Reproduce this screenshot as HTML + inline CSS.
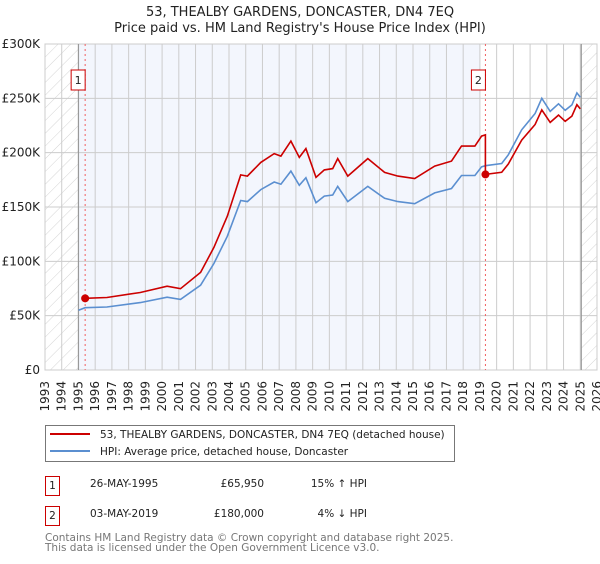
<!DOCTYPE html>
<html><head><meta charset="utf-8"><style>
body{margin:0;background:#fff;font-family:"DejaVu Sans","Liberation Sans",sans-serif;}
svg text{font-family:"DejaVu Sans","Liberation Sans",sans-serif;}
</style></head><body>
<svg id="c" width="600" height="560" xmlns="http://www.w3.org/2000/svg">
<defs><pattern id="h" width="9" height="9" patternUnits="userSpaceOnUse" patternTransform="rotate(45)"><line x1="0" y1="0" x2="0" y2="9" stroke="#d4d4d4" stroke-width="1"/></pattern></defs>
<text x="300" y="16" text-anchor="middle" font-size="13" fill="#222">53, THEALBY GARDENS, DONCASTER, DN4 7EQ</text>
<text x="300" y="32" text-anchor="middle" font-size="13" fill="#222">Price paid vs. HM Land Registry's House Price Index (HPI)</text>
<g id="plot"></g>
<g>
<rect x="45.5" y="425.5" width="409" height="36" fill="#fff" stroke="#777"/>
<line x1="50" y1="434" x2="90" y2="434" stroke="#cc0000" stroke-width="2"/>
<text x="100" y="438" font-size="10.5" fill="#222">53, THEALBY GARDENS, DONCASTER, DN4 7EQ (detached house)</text>
<line x1="50" y1="451" x2="90" y2="451" stroke="#5b8fd0" stroke-width="2"/>
<text x="100" y="455" font-size="10.5" fill="#222">HPI: Average price, detached house, Doncaster</text>
</g>
<g font-size="10.5" fill="#222">
<rect x="45.5" y="476.5" width="14" height="19" fill="#fff" stroke="#cc0000"/>
<text x="52.5" y="489" text-anchor="middle">1</text>
<text x="90" y="487">26-MAY-1995</text>
<text x="264" y="487" text-anchor="end">£65,950</text>
<text x="367" y="487" text-anchor="end">15% ↑ HPI</text>
<rect x="45.5" y="506.5" width="14" height="19" fill="#fff" stroke="#cc0000"/>
<text x="52.5" y="519" text-anchor="middle">2</text>
<text x="90" y="517">03-MAY-2019</text>
<text x="264" y="517" text-anchor="end">£180,000</text>
<text x="367" y="517" text-anchor="end">4% ↓ HPI</text>
</g>
<text x="45" y="541" font-size="10.5" fill="#777">Contains HM Land Registry data © Crown copyright and database right 2025.</text>
<text x="45" y="551" font-size="10.5" fill="#777">This data is licensed under the Open Government Licence v3.0.</text>
</svg>
<script>
const hpiYears=[1995.0,1995.4,1996.7,1998.7,2000.3,2001.1,2002.3,2003.1,2003.9,2004.7,2005.1,2005.9,2006.7,2007.1,2007.7,2008.2,2008.6,2009.2,2009.7,2010.2,2010.5,2011.1,2012.3,2013.3,2014.1,2015.1,2016.3,2017.3,2017.9,2018.7,2019.1,2019.33,2020.3,2020.7,2021.5,2022.3,2022.7,2023.2,2023.7,2024.1,2024.5,2024.8,2025.0];
const hpiValues=[55,57.3,58,62,67,65,78,98,123,156,155,166,173,171,183,170,177,154,160,161,169,155,169,158,155,153,163,167,179,179,187,188,190,198,221,236,250,238,245,239,244,255,251];
const saleYears=[1995.4,2019.33];
const salePrices=[65.95,180];
const yTicks=[0,50,100,150,200,250,300];
const yTickLabels=["£0","£50K","£100K","£150K","£200K","£250K","£300K"];
const xTickYears=[];for(let y=1993;y<=2026;y++)xTickYears.push(y);

const NS="http://www.w3.org/2000/svg";
const L=45,R=597,T=44,B=370;
const X=y=>L+(y-1993)*(R-L)/33;
const Y=v=>B-(v/300)*(B-T);
const g=document.getElementById('plot');
function mk(tag,attrs,parent){const e=document.createElementNS(NS,tag);for(const k in attrs)e.setAttribute(k,attrs[k]);(parent||g).appendChild(e);return e;}
function hpiAt(t){for(let i=0;i<hpiYears.length-1;i++){if(t>=hpiYears[i]&&t<=hpiYears[i+1]){const f=(t-hpiYears[i])/(hpiYears[i+1]-hpiYears[i]);return hpiValues[i]+f*(hpiValues[i+1]-hpiValues[i]);}}return hpiValues[hpiValues.length-1];}

let e=mk('rect',{x:L,y:T,width:R-L,height:B-T,fill:'#fff'});


e=mk('rect',{x:X(1995),y:T,width:X(2019)-X(1995),height:B-T,fill:'#f3f6fd'});


e=mk('rect',{x:L,y:T,width:X(1995)-L,height:B-T,fill:'url(#h)'});


e=mk('rect',{x:X(2025.06),y:T,width:R-X(2025.06),height:B-T,fill:'url(#h)'});


xTickYears.forEach(yr=>{
 const l=mk('line',{x1:X(yr),x2:X(yr),y1:T,y2:B,stroke:'#ccc','stroke-width':1});
 
 
 const t=mk('text',{x:0,y:0,'font-size':12,fill:'#222','text-anchor':'end',transform:`translate(${X(yr)+4},381) rotate(-90)`});
 t.textContent=yr;
 
 
});
yTicks.forEach((v,i)=>{
 const l=mk('line',{x1:L,x2:R,y1:Y(v),y2:Y(v),stroke:'#ccc','stroke-width':1});
 
 
 const t=mk('text',{x:40,y:Y(v)+4,'font-size':12,fill:'#222','text-anchor':'end'});
 t.textContent=yTickLabels[i];
 
 
});
e=mk('rect',{x:L,y:T,width:R-L,height:B-T,fill:'none',stroke:'#ccc'});


[1995,2025.06].forEach(yr=>{const l=mk('line',{x1:X(yr),x2:X(yr),y1:T,y2:B,stroke:'#999','stroke-width':1.2});
 
 });
saleYears.forEach((yr,i)=>{
 const l=mk('line',{x1:X(yr),x2:X(yr),y1:T,y2:B,stroke:'#f06060','stroke-dasharray':'2,3','stroke-width':1});
 
 
 const r=mk('rect',{x:X(yr)-14,y:70,width:14,height:20,fill:'#fff',stroke:'#cc0000'});
 
 
 const t=mk('text',{x:X(yr)-7,y:84,'font-size':11,fill:'#222','text-anchor':'middle'});
 t.textContent=i+1;
 
 
});
let d=hpiYears.map((t,i)=>(i?'L':'M')+X(t).toFixed(1)+','+Y(hpiValues[i]).toFixed(1)).join(' ');
e=mk('path',{d:d,fill:'none',stroke:'#5b8fd0','stroke-width':1.6});


let pts=[];
const ts=hpiYears.filter(t=>t>=saleYears[0]);
ts.forEach(t=>{
 let k=0;for(let i=0;i<saleYears.length;i++)if(t>=saleYears[i])k=i;
 if(t===saleYears[1]){pts.push([t,salePrices[0]*hpiAt(t)/hpiAt(saleYears[0])]);}
 pts.push([t,salePrices[k]*hpiAt(t)/hpiAt(saleYears[k])]);
});
d=pts.map((p,i)=>(i?'L':'M')+X(p[0]).toFixed(1)+','+Y(p[1]).toFixed(1)).join(' ');
e=mk('path',{d:d,fill:'none',stroke:'#cc0000','stroke-width':1.6});


saleYears.forEach((yr,i)=>{
 const c=mk('circle',{cx:X(yr),cy:Y(salePrices[i]),r:4,fill:'#cc0000'});
 
 
});
</script>
</body></html>
